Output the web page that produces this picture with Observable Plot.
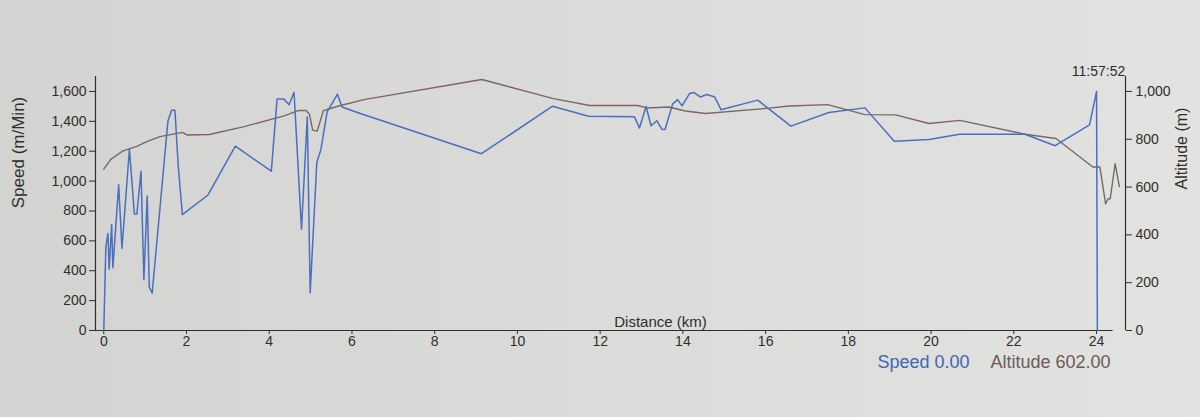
<!DOCTYPE html>
<html>
<head>
<meta charset="utf-8">
<script src="https://cdn.jsdelivr.net/npm/d3@7"></script>
<script src="https://cdn.jsdelivr.net/npm/@observablehq/plot@0.6"></script>
<style>
  html, body { margin: 0; padding: 0; }
  body { width: 1200px; height: 417px; background: linear-gradient(90deg, #d3d3d2 0%, #dbdbda 50%, #e2e2e1 100%); overflow: hidden; }
  #chart svg { display: block; }
</style>
</head>
<body>
<div id="chart"></div>
<script>
// ---- data ----
const speedDist = [0, 0.05, 0.10, 0.13, 0.19, 0.22, 0.36, 0.44, 0.62, 0.74, 0.80, 0.90, 0.97, 1.05, 1.10, 1.17, 1.55, 1.64, 1.72, 1.80, 1.90, 2.52, 3.18, 4.05, 4.19, 4.35, 4.48, 4.60, 4.78, 4.92, 4.99, 5.15, 5.25, 5.40, 5.65, 5.76, 6.20, 9.13, 10.85, 11.72, 12.83, 12.95, 13.11, 13.23, 13.37, 13.49, 13.57, 13.75, 13.87, 13.98, 14.16, 14.26, 14.42, 14.58, 14.77, 14.92, 15.81, 16.61, 17.53, 18.40, 19.11, 19.95, 20.69, 22.27, 23.00, 23.83, 24.00, 24.02];
const speedVals = [0, 560, 650, 410, 710, 420, 975, 550, 1215, 780, 780, 1065, 340, 900, 290, 250, 1400, 1474, 1474, 1103, 776, 907, 1234, 1066, 1550, 1550, 1511, 1594, 678, 1430, 253, 1125, 1212, 1463, 1582, 1496, 1452, 1183, 1501, 1434, 1430, 1355, 1499, 1370, 1404, 1347, 1345, 1515, 1545, 1504, 1586, 1593, 1563, 1580, 1563, 1478, 1542, 1368, 1459, 1490, 1266, 1278, 1313, 1313, 1237, 1376, 1600, 0];

const altDist = [0, 0.17, 0.45, 0.80, 1.04, 1.36, 1.90, 2.01, 2.55, 3.37, 4.38, 4.70, 4.89, 4.97, 5.05, 5.16, 5.31, 5.70, 6.32, 9.14, 10.87, 11.75, 12.91, 13.13, 13.66, 14.06, 14.55, 16.08, 16.57, 17.50, 18.40, 19.14, 19.95, 20.70, 22.27, 23.02, 23.91, 24.08, 24.22, 24.28, 24.33, 24.45, 24.55];
const altVals = [675, 716, 750, 770, 790, 811, 829, 818, 820, 852, 899, 920, 920, 906, 838, 834, 920, 940, 967, 1050, 970, 941, 941, 931, 935, 918, 908, 930, 939, 945, 903, 902, 866, 879, 821, 803, 684, 684, 530, 551, 551, 698, 602];

const xTicks = [0, 2, 4, 6, 8, 10, 12, 14, 16, 18, 20, 22, 24];
const speedTicks = [0, 200, 400, 600, 800, 1000, 1200, 1400, 1600];
const altTicks = [0, 200, 400, 600, 800, 1000];
const cursorTime = "11:57:52";
const xLabel = "Distance (km)";
const speedLabel = "Speed (m/Min)";
const altLabel = "Altitude (m)";

// ---- build ----
const blue = "#4a6fbf";
const brown = "#776866";
const ink = "#2e2e2e";
const k = 1.6;                 // altitude -> speed-axis factor (1,000 m aligned with 1,600)
const xDomain = [-0.2, 24.7];
const yDomain = [0, 1700];
const fmt = d3.format(",");
const fmt2 = d3.format(".2f");

const speed = speedDist.map((d, i) => ({d, v: speedVals[i]}));
const alt = altDist.map((d, i) => ({d, v: altVals[i] * k}));
const lastSpeed = speedVals[speedVals.length - 1];
const lastAlt = altVals[altVals.length - 1];

const W = 1200, H = 417, mL = 95, mR = 75, mT = 76, mB = 87;
const midX = (mL + (W - mR)) / 2;
const midY = (mT + (H - mB)) / 2;

const chart = Plot.plot({
  width: W, height: H,
  marginLeft: mL, marginRight: mR, marginTop: mT, marginBottom: mB,
  x: {domain: xDomain},
  y: {domain: yDomain},
  style: {background: "transparent", fontFamily: "'Liberation Sans', Arial, sans-serif", fontSize: "14px", color: ink},
  marks: [
    // axis domain lines
    Plot.ruleX([xDomain[0]], {y1: yDomain[0], y2: yDomain[1], stroke: ink, strokeWidth: 1.2}),
    Plot.ruleX([xDomain[1]], {y1: yDomain[0], y2: yDomain[1], stroke: ink, strokeWidth: 1.2}),
    Plot.ruleY([yDomain[0]], {x1: xDomain[0], x2: 24.4, stroke: ink, strokeWidth: 1.2}),
    Plot.axisX({ticks: xTicks, tickSize: 4, tickPadding: 2, label: null, fontSize: 14}),
    Plot.axisY({ticks: speedTicks, tickFormat: fmt, tickSize: 6, tickPadding: 3, label: null, fontSize: 14}),
    Plot.axisY({anchor: "right", ticks: altTicks.map(a => a * k), tickFormat: d => fmt(Math.round(d / k)), tickSize: 6, tickPadding: 4, label: null, fontSize: 14}),
    // data
    Plot.line(alt, {x: "d", y: "v", stroke: brown, strokeWidth: 1.4}),
    Plot.line(speed, {x: "d", y: "v", stroke: blue, strokeWidth: 1.5}),
    // labels
    Plot.text([xLabel], {frameAnchor: "bottom", dx: 660 - midX, dy: -4, lineAnchor: "bottom", fontSize: 15, fill: ink}),
    Plot.text([speedLabel], {frameAnchor: "left", textAnchor: "middle", dx: 18 - mL, dy: 152 - midY, rotate: -90, fontSize: 17, fill: ink}),
    Plot.text([altLabel], {frameAnchor: "right", textAnchor: "middle", dx: 1181 - (W - mR), dy: 148 - midY, rotate: -90, fontSize: 16, fill: ink}),
    Plot.text([cursorTime], {frameAnchor: "top", dx: 1098 - midX, dy: -10, fontSize: 14, fill: ink}),
    Plot.text(["Altitude " + fmt2(lastAlt)], {frameAnchor: "bottom", dx: 1110 - midX, dy: 37, textAnchor: "end", fontSize: 18, fill: "#6e5a58"}),
    Plot.text(["Speed " + fmt2(lastSpeed)], {frameAnchor: "bottom", dx: 969 - midX, dy: 37, textAnchor: "end", fontSize: 18, fill: "#3f66b3"})
  ]
});
document.getElementById("chart").appendChild(chart);
</script>
</body>
</html>
